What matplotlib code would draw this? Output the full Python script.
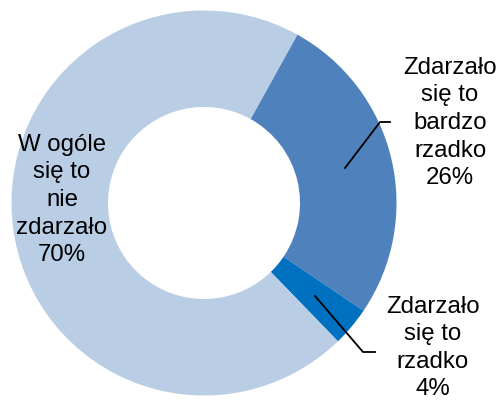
import matplotlib.pyplot as plt

plt.rcParams['font.family'] = ['Liberation Sans', 'DejaVu Sans']

# dane
etykiety = ["Zdarzało\nsię to\nbardzo\nrzadko\n26%",
            "Zdarzało\nsię to\nrzadko\n4%",
            "W ogóle\nsię to\nnie\nzdarzało\n70%"]
wartosci = [26.4, 3.3, 70.3]
kolory = ["#4F81BD", "#0070C0", "#B9CDE5"]

fig = plt.figure(figsize=(5, 4), dpi=100)
ax = fig.add_axes([0, 0, 1, 1])
ax.set_xlim(0, 500)
ax.set_ylim(0, 400)
ax.set_aspect('equal')
ax.axis('off')

ax.pie(wartosci, colors=kolory, startangle=61, counterclock=False,
       center=(204, 197), radius=192.5,
       wedgeprops=dict(width=96.5, linewidth=0))
ax.set_xlim(0, 500)
ax.set_ylim(0, 400)

fs = 17.3
ls = 1.33
# etykieta 26%
ax.text(450, 277, etykiety[0], ha='center', va='center', fontsize=fs, linespacing=ls)
ax.plot([345, 380, 390], [232, 278, 278], color='black', lw=1.3)
# etykieta 4% (w oryginale lekko ucięta u dołu)
ax.text(433, 52, etykiety[1], ha='center', va='center', fontsize=fs, linespacing=ls)
ax.plot([315, 363, 375], [104, 48, 48], color='black', lw=1.3)
# etykieta 70%
ax.text(62, 200, etykiety[2], ha='center', va='center', fontsize=fs, linespacing=ls)

fig.savefig("out.png", dpi=100)
